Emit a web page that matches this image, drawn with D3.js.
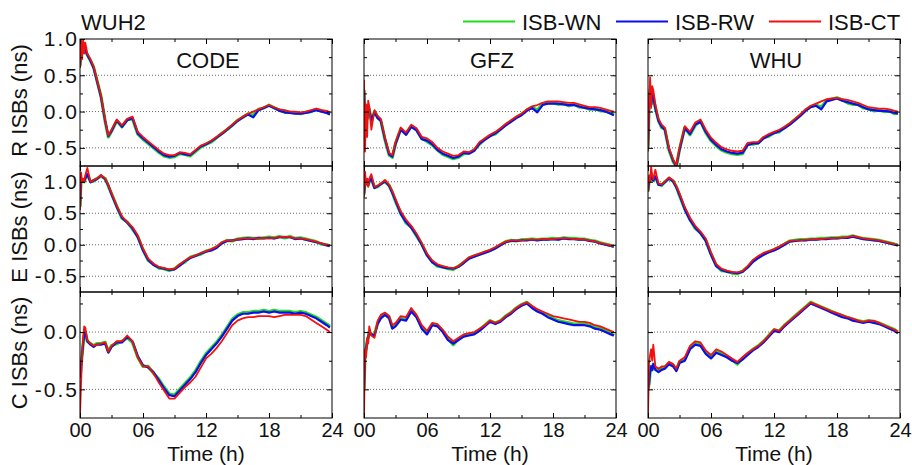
<!DOCTYPE html>
<html><head><meta charset="utf-8">
<script src="https://cdn.jsdelivr.net/npm/d3@7"></script>
<style>
html,body{margin:0;padding:0;background:#fff;}
svg{display:block;font-family:"Liberation Sans",Arial,sans-serif;}
</style></head>
<body>
<svg id="chart" width="912" height="465"></svg>
<script>
// ---------------- data ----------------
const station = "WUH2";
const products = ["CODE", "GFZ", "WHU"];
const systems = ["R", "E", "C"];
const seriesNames = ["ISB-WN", "ISB-RW", "ISB-CT"];
const xTickLabels = ["00", "06", "12", "18", "24"];
const xTickValues = [0, 6, 12, 18, 24];
const xMinorValues = [3, 9, 15, 21];

const T = [0,0.1,0.2,0.3,0.4,0.5,0.7,1.0,1.3,1.6,2.0,2.4,2.7,3.0,3.5,4.0,4.5,5.0,5.5,6.0,6.5,7.0,7.5,8.0,8.5,9.0,9.5,10.0,10.5,11.0,11.5,12.0,12.5,13.0,13.5,14.0,14.5,15.0,15.5,16.0,16.5,17.0,17.5,18.0,18.5,19.0,19.5,20.0,20.5,21.0,21.5,22.0,22.5,23.0,23.5,23.8];

// R ISBs
const R_CODE_WN = [0.63,0.84,0.80,0.87,0.82,0.84,0.78,0.70,0.61,0.44,0.21,-0.14,-0.35,-0.27,-0.13,-0.21,-0.11,-0.10,-0.31,-0.38,-0.44,-0.50,-0.56,-0.61,-0.63,-0.62,-0.58,-0.59,-0.61,-0.55,-0.49,-0.45,-0.42,-0.36,-0.30,-0.25,-0.19,-0.12,-0.08,-0.03,-0.05,0.03,0.05,0.09,0.05,0.02,-0.01,-0.01,-0.02,-0.03,-0.01,0.00,0.03,0.01,-0.01,-0.03];
const R_CODE_RW = [0.62,0.85,0.80,0.88,0.82,0.85,0.78,0.70,0.60,0.43,0.20,-0.13,-0.34,-0.27,-0.12,-0.21,-0.12,-0.09,-0.30,-0.37,-0.43,-0.49,-0.55,-0.60,-0.62,-0.61,-0.57,-0.59,-0.60,-0.54,-0.48,-0.45,-0.41,-0.36,-0.31,-0.25,-0.19,-0.13,-0.08,-0.04,-0.08,0.02,0.05,0.08,0.05,0.01,-0.01,-0.02,-0.03,-0.03,-0.02,0.00,0.02,0.00,-0.02,-0.04];
const R_CODE_CT = [0.60,1.00,0.72,1.00,0.80,0.95,0.80,0.72,0.62,0.45,0.22,-0.12,-0.33,-0.25,-0.11,-0.19,-0.10,-0.07,-0.28,-0.35,-0.41,-0.47,-0.53,-0.58,-0.60,-0.60,-0.56,-0.57,-0.59,-0.53,-0.47,-0.44,-0.40,-0.35,-0.30,-0.24,-0.18,-0.12,-0.07,-0.03,0.00,0.03,0.06,0.09,0.06,0.03,0.02,0.00,0.00,-0.01,0.00,0.02,0.04,0.02,0.01,-0.01];

const R_GFZ_WN = [0.30,-0.20,0.05,-0.10,0.08,0.03,-0.12,0.00,-0.08,-0.12,-0.39,-0.60,-0.63,-0.44,-0.24,-0.31,-0.20,-0.25,-0.37,-0.41,-0.46,-0.53,-0.59,-0.62,-0.65,-0.63,-0.58,-0.57,-0.53,-0.45,-0.38,-0.33,-0.31,-0.24,-0.18,-0.13,-0.08,-0.04,0.02,0.06,0.02,0.10,0.12,0.12,0.10,0.11,0.08,0.10,0.06,0.06,0.03,0.04,0.01,0.01,-0.02,-0.04];
const R_GFZ_RW = [0.30,-0.20,0.05,-0.10,0.08,0.03,-0.12,-0.01,-0.09,-0.13,-0.38,-0.59,-0.62,-0.45,-0.25,-0.32,-0.21,-0.26,-0.38,-0.40,-0.45,-0.53,-0.58,-0.61,-0.64,-0.62,-0.57,-0.58,-0.54,-0.44,-0.39,-0.34,-0.30,-0.25,-0.19,-0.14,-0.09,-0.05,0.01,0.05,-0.01,0.09,0.11,0.11,0.11,0.10,0.09,0.09,0.07,0.05,0.04,0.03,0.02,0.00,-0.03,-0.05];
const R_GFZ_CT = [0.44,-0.55,0.10,-0.35,0.15,0.07,-0.25,0.02,-0.06,-0.10,-0.36,-0.57,-0.60,-0.42,-0.22,-0.29,-0.18,-0.23,-0.35,-0.37,-0.42,-0.50,-0.55,-0.58,-0.61,-0.60,-0.55,-0.56,-0.52,-0.42,-0.37,-0.32,-0.28,-0.23,-0.17,-0.12,-0.07,-0.03,0.03,0.07,0.09,0.12,0.14,0.14,0.14,0.13,0.12,0.12,0.10,0.08,0.06,0.06,0.05,0.03,0.01,0.00];

const R_WHU_WN = [-0.50,0.05,0.30,0.10,0.25,0.20,0.05,-0.12,-0.22,-0.24,-0.53,-0.69,-0.76,-0.52,-0.22,-0.32,-0.19,-0.13,-0.29,-0.40,-0.47,-0.53,-0.56,-0.58,-0.59,-0.58,-0.45,-0.45,-0.43,-0.36,-0.34,-0.29,-0.28,-0.22,-0.17,-0.11,-0.05,0.02,0.07,0.09,0.06,0.15,0.17,0.19,0.16,0.12,0.10,0.10,0.05,0.04,0.01,0.02,0.00,0.01,-0.03,-0.02];
const R_WHU_RW = [-0.50,0.05,0.30,0.10,0.25,0.20,0.05,-0.13,-0.21,-0.25,-0.52,-0.68,-0.75,-0.53,-0.23,-0.31,-0.18,-0.14,-0.28,-0.39,-0.46,-0.52,-0.55,-0.57,-0.58,-0.57,-0.46,-0.44,-0.44,-0.37,-0.33,-0.30,-0.27,-0.23,-0.18,-0.12,-0.06,0.01,0.06,0.08,0.03,0.14,0.16,0.18,0.15,0.13,0.11,0.09,0.06,0.03,0.02,0.01,0.01,0.00,-0.02,-0.03];
const R_WHU_CT = [-0.55,0.10,0.47,0.05,0.35,0.30,0.10,-0.10,-0.18,-0.22,-0.50,-0.66,-0.74,-0.50,-0.20,-0.28,-0.15,-0.11,-0.25,-0.36,-0.43,-0.49,-0.52,-0.54,-0.55,-0.54,-0.43,-0.42,-0.42,-0.35,-0.31,-0.28,-0.25,-0.21,-0.16,-0.10,-0.04,0.03,0.08,0.11,0.14,0.17,0.18,0.19,0.17,0.16,0.14,0.12,0.09,0.06,0.05,0.04,0.04,0.03,0.01,0.00];

// E ISBs
const E_CODE_WN = [0.60,1.05,1.00,1.03,1.00,1.05,1.12,1.00,1.01,1.05,1.09,1.05,0.93,0.81,0.61,0.42,0.36,0.25,0.13,-0.08,-0.25,-0.31,-0.37,-0.38,-0.41,-0.38,-0.32,-0.27,-0.20,-0.17,-0.15,-0.10,-0.08,-0.04,0.03,0.07,0.06,0.09,0.10,0.11,0.10,0.10,0.11,0.12,0.11,0.13,0.11,0.13,0.10,0.11,0.09,0.07,0.05,0.01,0.00,-0.02];
const E_CODE_RW = [0.60,1.05,1.00,1.03,1.00,1.05,1.12,0.99,1.02,1.04,1.10,1.04,0.94,0.80,0.60,0.43,0.35,0.26,0.12,-0.09,-0.24,-0.32,-0.36,-0.38,-0.40,-0.39,-0.33,-0.26,-0.21,-0.18,-0.14,-0.11,-0.09,-0.05,0.02,0.06,0.07,0.08,0.09,0.10,0.09,0.11,0.10,0.11,0.10,0.12,0.12,0.12,0.09,0.10,0.08,0.06,0.04,0.02,-0.01,-0.02];
const E_CODE_CT = [0.55,1.15,1.00,1.05,1.00,1.10,1.22,1.00,1.03,1.05,1.11,1.05,0.95,0.82,0.62,0.45,0.36,0.28,0.15,-0.06,-0.22,-0.30,-0.35,-0.37,-0.39,-0.38,-0.31,-0.25,-0.20,-0.17,-0.13,-0.10,-0.07,-0.03,0.04,0.07,0.07,0.08,0.10,0.10,0.10,0.10,0.11,0.10,0.11,0.12,0.13,0.12,0.10,0.10,0.09,0.07,0.05,0.02,0.00,-0.01];

const E_GFZ_WN = [0.80,1.00,0.98,1.00,0.95,1.00,1.05,0.91,0.92,0.97,1.00,0.94,0.83,0.69,0.50,0.35,0.28,0.14,0.01,-0.16,-0.27,-0.34,-0.35,-0.38,-0.39,-0.34,-0.28,-0.21,-0.18,-0.15,-0.12,-0.09,-0.05,0.00,0.05,0.07,0.06,0.08,0.08,0.09,0.08,0.09,0.09,0.10,0.09,0.11,0.10,0.10,0.09,0.09,0.07,0.06,0.03,0.01,-0.01,-0.03];
const E_GFZ_RW = [0.80,1.00,0.98,1.00,0.95,1.00,1.05,0.90,0.93,0.96,1.01,0.93,0.82,0.70,0.49,0.36,0.27,0.15,0.00,-0.17,-0.28,-0.33,-0.36,-0.37,-0.38,-0.35,-0.29,-0.22,-0.19,-0.16,-0.13,-0.10,-0.06,-0.01,0.04,0.06,0.06,0.07,0.07,0.08,0.07,0.08,0.08,0.09,0.08,0.10,0.09,0.09,0.08,0.08,0.06,0.05,0.02,0.00,-0.02,-0.03];
const E_GFZ_CT = [0.76,1.16,0.95,1.05,0.92,1.05,1.12,0.92,0.94,0.97,1.03,0.95,0.85,0.73,0.53,0.40,0.30,0.18,0.03,-0.14,-0.25,-0.31,-0.34,-0.36,-0.37,-0.34,-0.27,-0.20,-0.17,-0.14,-0.11,-0.08,-0.04,0.01,0.05,0.07,0.07,0.07,0.08,0.08,0.08,0.09,0.09,0.09,0.10,0.10,0.10,0.09,0.09,0.08,0.07,0.05,0.03,0.01,-0.01,-0.02];

const E_WHU_WN = [0.85,1.00,1.02,1.10,1.05,1.02,1.08,0.96,0.94,1.00,1.05,1.01,0.92,0.78,0.57,0.40,0.26,0.19,0.07,-0.15,-0.33,-0.41,-0.42,-0.45,-0.46,-0.42,-0.35,-0.26,-0.20,-0.15,-0.11,-0.08,-0.04,0.01,0.06,0.07,0.08,0.08,0.09,0.09,0.10,0.10,0.11,0.11,0.12,0.12,0.14,0.12,0.10,0.09,0.08,0.07,0.05,0.03,0.01,-0.01];
const E_WHU_RW = [0.85,1.00,1.02,1.10,1.05,1.02,1.08,0.95,0.95,0.99,1.06,1.00,0.91,0.79,0.56,0.39,0.27,0.18,0.06,-0.16,-0.34,-0.40,-0.43,-0.44,-0.45,-0.43,-0.36,-0.27,-0.21,-0.16,-0.12,-0.09,-0.05,0.00,0.05,0.06,0.07,0.07,0.08,0.08,0.09,0.09,0.10,0.10,0.11,0.11,0.13,0.11,0.09,0.08,0.07,0.06,0.04,0.02,0.00,-0.01];
const E_WHU_CT = [0.84,1.10,1.00,1.24,1.10,1.04,1.19,0.97,0.96,1.00,1.07,1.02,0.93,0.82,0.60,0.43,0.30,0.21,0.10,-0.12,-0.31,-0.38,-0.41,-0.43,-0.44,-0.42,-0.34,-0.24,-0.18,-0.13,-0.10,-0.07,-0.03,0.02,0.06,0.07,0.07,0.08,0.08,0.09,0.09,0.10,0.10,0.11,0.11,0.12,0.14,0.12,0.10,0.09,0.08,0.07,0.05,0.03,0.01,0.00];

// C ISBs
const C_CODE_WN = [-0.40,-0.30,-0.20,-0.10,-0.02,0.00,-0.08,-0.10,-0.12,-0.10,-0.10,-0.09,-0.17,-0.12,-0.10,-0.08,-0.05,-0.09,-0.22,-0.30,-0.30,-0.36,-0.41,-0.48,-0.54,-0.55,-0.50,-0.45,-0.40,-0.34,-0.26,-0.19,-0.14,-0.09,-0.03,0.04,0.11,0.15,0.17,0.17,0.18,0.18,0.19,0.18,0.19,0.18,0.18,0.18,0.17,0.18,0.17,0.15,0.13,0.10,0.07,0.05];
const C_CODE_RW = [-0.40,-0.30,-0.20,-0.10,-0.02,0.00,-0.08,-0.11,-0.13,-0.11,-0.11,-0.10,-0.18,-0.13,-0.09,-0.09,-0.04,-0.08,-0.21,-0.29,-0.31,-0.35,-0.42,-0.49,-0.55,-0.56,-0.51,-0.46,-0.41,-0.35,-0.27,-0.20,-0.15,-0.10,-0.04,0.03,0.10,0.14,0.16,0.16,0.17,0.17,0.18,0.17,0.18,0.17,0.17,0.17,0.16,0.17,0.16,0.14,0.12,0.09,0.06,0.04];
const C_CODE_CT = [-0.73,-0.45,-0.21,-0.05,0.05,0.04,-0.07,-0.10,-0.12,-0.11,-0.10,-0.09,-0.17,-0.12,-0.08,-0.08,-0.03,-0.08,-0.22,-0.30,-0.30,-0.36,-0.44,-0.51,-0.58,-0.58,-0.53,-0.48,-0.44,-0.39,-0.31,-0.23,-0.19,-0.14,-0.08,-0.01,0.06,0.10,0.12,0.13,0.13,0.14,0.14,0.14,0.13,0.14,0.15,0.15,0.15,0.15,0.14,0.11,0.08,0.05,0.02,0.00];

const C_GFZ_WN = [-0.50,-0.20,-0.15,-0.08,-0.05,0.00,-0.02,-0.02,0.08,0.13,0.16,0.13,0.04,0.06,0.12,0.11,0.19,0.14,0.04,-0.01,0.07,0.06,0.01,-0.06,-0.11,-0.06,-0.03,-0.02,-0.01,0.02,0.06,0.10,0.08,0.10,0.14,0.17,0.21,0.24,0.26,0.22,0.19,0.17,0.14,0.12,0.10,0.09,0.08,0.07,0.07,0.07,0.06,0.04,0.03,0.01,-0.01,-0.03];
const C_GFZ_RW = [-0.50,-0.20,-0.15,-0.08,-0.05,0.00,-0.02,-0.03,0.07,0.12,0.15,0.12,0.03,0.05,0.11,0.10,0.18,0.13,0.03,-0.02,0.06,0.05,0.00,-0.07,-0.10,-0.07,-0.04,-0.03,-0.02,0.01,0.05,0.09,0.07,0.09,0.13,0.16,0.20,0.23,0.25,0.21,0.18,0.16,0.13,0.11,0.09,0.08,0.07,0.06,0.06,0.06,0.05,0.03,0.02,0.00,-0.02,-0.03];
const C_GFZ_CT = [-0.73,-0.15,-0.22,-0.05,-0.10,0.05,-0.03,-0.05,0.10,0.15,0.17,0.14,0.06,0.08,0.14,0.13,0.21,0.15,0.06,0.01,0.08,0.07,0.02,-0.04,-0.08,-0.05,-0.02,-0.01,0.00,0.03,0.06,0.10,0.08,0.10,0.14,0.17,0.21,0.24,0.26,0.23,0.20,0.18,0.16,0.14,0.13,0.12,0.11,0.10,0.09,0.09,0.08,0.06,0.05,0.03,0.01,0.00];

const C_WHU_WN = [-0.50,-0.45,-0.35,-0.30,-0.33,-0.28,-0.32,-0.34,-0.32,-0.31,-0.27,-0.29,-0.33,-0.26,-0.24,-0.14,-0.10,-0.11,-0.18,-0.22,-0.17,-0.19,-0.21,-0.24,-0.28,-0.23,-0.19,-0.15,-0.12,-0.08,-0.03,0.02,0.01,0.06,0.10,0.14,0.18,0.22,0.26,0.24,0.22,0.20,0.18,0.16,0.14,0.13,0.11,0.10,0.09,0.10,0.09,0.08,0.06,0.04,0.02,0.00];
const C_WHU_RW = [-0.50,-0.45,-0.35,-0.30,-0.33,-0.28,-0.33,-0.35,-0.33,-0.32,-0.28,-0.30,-0.34,-0.27,-0.25,-0.15,-0.11,-0.12,-0.19,-0.23,-0.18,-0.20,-0.22,-0.25,-0.27,-0.24,-0.20,-0.16,-0.13,-0.09,-0.04,0.01,0.00,0.05,0.09,0.13,0.17,0.21,0.25,0.23,0.21,0.19,0.17,0.15,0.13,0.12,0.10,0.09,0.08,0.09,0.08,0.07,0.05,0.03,0.01,-0.01];
const C_WHU_CT = [-0.73,-0.27,-0.20,-0.15,-0.25,-0.11,-0.30,-0.32,-0.30,-0.30,-0.26,-0.28,-0.32,-0.25,-0.22,-0.12,-0.08,-0.09,-0.16,-0.20,-0.15,-0.17,-0.20,-0.23,-0.26,-0.22,-0.18,-0.15,-0.12,-0.08,-0.03,0.025,0.01,0.06,0.10,0.14,0.18,0.22,0.26,0.24,0.22,0.20,0.18,0.165,0.15,0.13,0.12,0.10,0.09,0.10,0.10,0.08,0.06,0.04,0.02,0.00];

const yDomains = [[-0.75, 1.0], [-0.75, 1.25], [-0.75, 0.35]];
const yMajorTicks = [[-0.5, 0, 0.5, 1.0], [-0.5, 0, 0.5, 1.0], [-0.5, 0]];
const yMinorTicks = [[-0.25, 0.25, 0.75], [-0.25, 0.25, 0.75], [-0.25, 0.25]];
const yGridValues = [[-0.5, 0, 0.5], [-0.5, 0, 0.5, 1.0], [-0.5, 0]];

// ---------------- layout / style ----------------
const table = {
  R: {CODE: [R_CODE_WN, R_CODE_RW, R_CODE_CT], GFZ: [R_GFZ_WN, R_GFZ_RW, R_GFZ_CT], WHU: [R_WHU_WN, R_WHU_RW, R_WHU_CT]},
  E: {CODE: [E_CODE_WN, E_CODE_RW, E_CODE_CT], GFZ: [E_GFZ_WN, E_GFZ_RW, E_GFZ_CT], WHU: [E_WHU_WN, E_WHU_RW, E_WHU_CT]},
  C: {CODE: [C_CODE_WN, C_CODE_RW, C_CODE_CT], GFZ: [C_GFZ_WN, C_GFZ_RW, C_GFZ_CT], WHU: [C_WHU_WN, C_WHU_RW, C_WHU_CT]}
};
const colors = ["#1edc1e", "#0c0cf2", "#f21010"];
const widths = [3.2, 2.2, 1.8];

const colLeft = [80, 364, 648];
const panelW = 252;
const rowTop = [39, 166, 292];
const rowBot = [166, 292, 418];

const fmtY = d3.formatLocale({decimal: ".", thousands: ",", grouping: [3], currency: ["", ""], minus: "-"}).format(".1f");

const svg = d3.select("#chart");
svg.append("rect").attr("width", 912).attr("height", 465).attr("fill", "#fff");

const defs = svg.append("defs");

function styleAxis(g) {
  g.select(".domain").remove();
  g.selectAll(".tick line").attr("stroke", "#000").attr("stroke-width", 1);
  g.selectAll(".tick text").attr("fill", "#111").attr("font-family", "'Liberation Sans', Arial, sans-serif");
}

systems.forEach((sys, r) => {
  products.forEach((prod, c) => {
    const L = colLeft[c], R = L + panelW, top = rowTop[r], bot = rowBot[r];
    const x = d3.scaleLinear().domain([0, 24]).range([L, R]);
    const y = d3.scaleLinear().domain(yDomains[r]).range([bot, top]);
    const g = svg.append("g");

    // dotted grid
    g.selectAll("line.grid").data(yGridValues[r]).join("line")
      .attr("x1", L).attr("x2", R)
      .attr("y1", d => y(d)).attr("y2", d => y(d))
      .attr("stroke", "#6a6a6a").attr("stroke-width", 1)
      .attr("stroke-dasharray", "1,2");

    // clip
    const cid = `clip-${sys}-${prod}`;
    defs.append("clipPath").attr("id", cid)
      .append("rect").attr("x", L).attr("y", top).attr("width", panelW).attr("height", bot - top);

    const line = d3.line().x((d, i) => x(T[i])).y(d => y(d));
    const lines = g.append("g").attr("clip-path", `url(#${cid})`);
    table[sys][prod].forEach((vals, k) => {
      lines.append("path").datum(vals)
        .attr("d", line)
        .attr("fill", "none")
        .attr("stroke", colors[k])
        .attr("stroke-width", widths[k])
        .attr("stroke-linejoin", "round");
    });

    // axes (ticks inward)
    const isBottom = r === 2;
    const bx = g.append("g").attr("transform", `translate(0,${bot})`)
      .call(d3.axisBottom(x).tickValues(xTickValues).tickSizeInner(-5).tickSizeOuter(0).tickPadding(5)
        .tickFormat(isBottom ? (d, i) => xTickLabels[i] : () => ""));
    bx.call(styleAxis);
    bx.selectAll(".tick text").attr("font-size", 20);
    g.append("g").attr("transform", `translate(0,${bot})`)
      .call(d3.axisBottom(x).tickValues(xMinorValues).tickSizeInner(-3).tickSizeOuter(0).tickFormat(() => ""))
      .call(styleAxis);
    g.append("g").attr("transform", `translate(0,${top})`)
      .call(d3.axisTop(x).tickValues(xTickValues).tickSizeInner(-5).tickSizeOuter(0).tickFormat(() => ""))
      .call(styleAxis);
    g.append("g").attr("transform", `translate(0,${top})`)
      .call(d3.axisTop(x).tickValues(xMinorValues).tickSizeInner(-3).tickSizeOuter(0).tickFormat(() => ""))
      .call(styleAxis);

    const ly = g.append("g").attr("transform", `translate(${L},0)`)
      .call(d3.axisLeft(y).tickValues(yMajorTicks[r]).tickSizeInner(-5).tickSizeOuter(0).tickPadding(1)
        .tickFormat(c === 0 ? fmtY : () => ""));
    ly.call(styleAxis);
    ly.selectAll(".tick text").attr("font-size", 21).attr("letter-spacing", "2px");
    g.append("g").attr("transform", `translate(${L},0)`)
      .call(d3.axisLeft(y).tickValues(yMinorTicks[r]).tickSizeInner(-3).tickSizeOuter(0).tickFormat(() => ""))
      .call(styleAxis);
    g.append("g").attr("transform", `translate(${R},0)`)
      .call(d3.axisRight(y).tickValues(yMajorTicks[r]).tickSizeInner(-5).tickSizeOuter(0).tickFormat(() => ""))
      .call(styleAxis);
    g.append("g").attr("transform", `translate(${R},0)`)
      .call(d3.axisRight(y).tickValues(yMinorTicks[r]).tickSizeInner(-3).tickSizeOuter(0).tickFormat(() => ""))
      .call(styleAxis);

    // frame
    g.append("rect").attr("x", L).attr("y", top).attr("width", panelW).attr("height", bot - top)
      .attr("fill", "none").attr("stroke", "#000").attr("stroke-width", 1);

    if (r === 0) {
      g.append("text").attr("x", (L + R) / 2 + 2).attr("y", 68)
        .attr("text-anchor", "middle").attr("font-size", 22).attr("fill", "#111").text(prod);
    }
    if (isBottom) {
      g.append("text").attr("x", (L + R) / 2).attr("y", 461)
        .attr("text-anchor", "middle").attr("font-size", 21).attr("fill", "#111").text("Time (h)");
    }
  });
  // y title
  const cy = (rowTop[r] + rowBot[r]) / 2 - 2;
  svg.append("text").attr("transform", `translate(27,${cy}) rotate(-90)`)
    .attr("text-anchor", "middle").attr("font-size", 22).attr("fill", "#111")
    .text(`${sys} ISBs (ns)`);
});

// station label
svg.append("text").attr("x", 81).attr("y", 30).attr("font-size", 22).attr("fill", "#111").text(station);

// legend
const legendX = [463, 616, 769];
seriesNames.forEach((name, k) => {
  const lx = legendX[k];
  svg.append("line").attr("x1", lx).attr("x2", lx + 52).attr("y1", 21.5).attr("y2", 21.5)
    .attr("stroke", colors[k]).attr("stroke-width", 2);
  svg.append("text").attr("x", lx + 59).attr("y", 29.5).attr("font-size", 22).attr("fill", "#111").text(name);
});
</script>
</body></html>
